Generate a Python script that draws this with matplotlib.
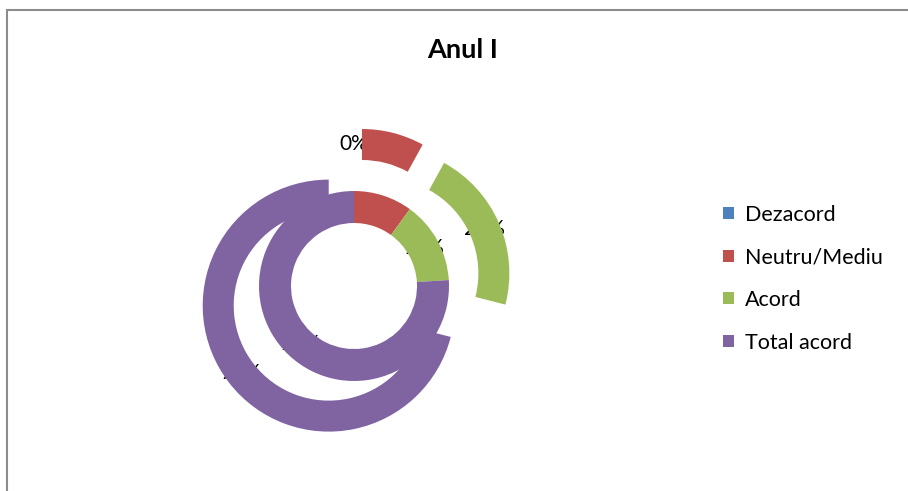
import matplotlib.pyplot as plt
from matplotlib.patches import Rectangle

# two series of the same survey question, shown as nested doughnut rings
categories = ["Dezacord", "Neutru/Mediu", "Acord", "Total acord"]
inner_values = [0, 10, 14, 76]
outer_values = [0, 8, 21, 71]
colors = ["#4F81BD", "#C0504D", "#9BBB59", "#8064A2"]
title = "Anul I"

W, H = 908, 491
plt.rcParams["font.family"] = ["Lato", "DejaVu Sans"]

fig = plt.figure(figsize=(W / 100, H / 100), dpi=100)
ax = fig.add_axes([0, 0, 1, 1])

center = (354, H - 286)
r_in, w_in = 95, 32
r_out, w_out = 126, 31
explode_px = 32  # pie offsets exploded wedges in data units (pixels here)

wedges_in, _, texts_in = ax.pie(
    inner_values, colors=colors, radius=r_in, center=center,
    startangle=90, counterclock=False,
    wedgeprops=dict(width=w_in, linewidth=0),
    autopct="%1.0f%%", pctdistance=(r_in - w_in / 2) / r_in,
    textprops=dict(fontsize=15, color="black"))

wedges_out, _, texts_out = ax.pie(
    outer_values, colors=colors, radius=r_out, center=center,
    startangle=90, counterclock=False,
    explode=[explode_px] * len(outer_values),
    wedgeprops=dict(width=w_out, linewidth=0),
    autopct="%1.0f%%", pctdistance=(r_out - w_out / 2) / r_out,
    textprops=dict(fontsize=15, color="black"))

# labels sit underneath the rings, like in the original export
for t in texts_in + texts_out:
    t.set_zorder(0.5)

ax.set_xlim(0, W)
ax.set_ylim(0, H)
ax.set_aspect("equal")
ax.set_axis_off()

ax.add_patch(Rectangle((7, -20), W + 40, H - 10 + 20, fill=False,
                       edgecolor="#8c8c8c", linewidth=1.5, zorder=3))

ax.text(463, H - 50, title, ha="center", va="center",
        fontsize=19.5, fontweight="bold")

ax.legend(wedges_in, categories, loc="upper left",
          bbox_to_anchor=(712 / W, 1 - 194 / H), frameon=False,
          fontsize=15.5, handlelength=0.5, handleheight=0.5,
          handletextpad=0.55, labelspacing=1.05, borderpad=0)

fig.savefig("out.png", dpi=100)
